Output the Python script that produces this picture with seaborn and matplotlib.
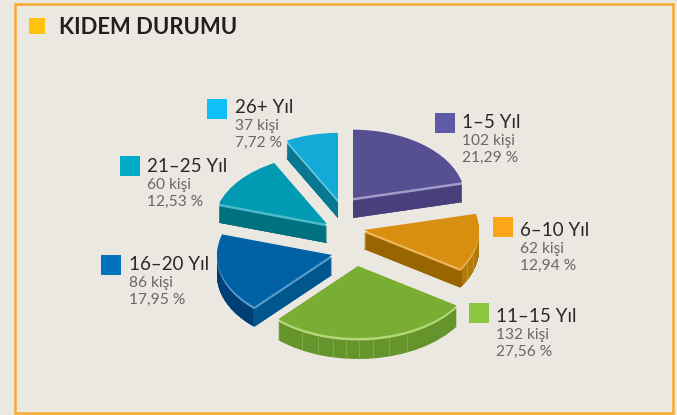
import numpy as np
import pandas as pd
import seaborn as sns
import matplotlib.pyplot as plt
from matplotlib.patches import Rectangle

title = "KIDEM DURUMU"
groups = ["1–5 Yıl", "6–10 Yıl", "11–15 Yıl", "16–20 Yıl", "21–25 Yıl", "26+ Yıl"]
people = [102, 62, 132, 86, 60, 37]
people_labels = ["102 kişi", "62 kişi", "132 kişi", "86 kişi", "60 kişi", "37 kişi"]
percent_labels = ["21,29 %", "12,94 %", "27,56 %", "17,95 %", "12,53 %", "7,72 %"]

legend_colors = ["#5E5AA8", "#FBA619", "#8DC63F", "#0072BC", "#00ACC8", "#10BFF5"]
top_colors = ["#565093", "#D98F10", "#7AAD33", "#0061A4", "#009BB2", "#14AAD8"]
shine_colors = ["#A09BC8", "#EDB35A", "#B5D67A", "#5A9CCB", "#4DBAC9", "#6CCBE4"]
face_colors = ["#483F7C", "#996500", "#65942C", "#00568F", "#00727F", "#087792"]
arc_colors = ["#483F7C", "#B07A08", "#5F8C2A", "#003F73", "#00727F", "#087792"]

# layout in image pixels
W, H = 677, 415
SQUASH = 0.61
BG = "#EBE7E1"
apex_x = [353, 364, 358, 332, 327, 338]
apex_y = [198, 230, 266, 255, 224, 200]
radius = [112, 115, 118, 115, 113, 110]
depth = [20, 19, 21, 20, 19, 18]
square_x = [445, 503, 479, 111, 130, 217]
square_y = [123, 227, 313, 265, 166, 109]
text_x = [462, 520, 496, 129, 147, 235]
name_y = [122, 230, 316, 264, 166, 107]
green_ribs = [302, 318, 333, 346, 359, 373, 389, 407]
orange_ribs = [467, 473]

sns.set_theme(style="white", rc={"figure.facecolor": BG, "axes.facecolor": BG})
plt.rcParams["font.family"] = ["Lato", "DejaVu Sans"]

fig = plt.figure(figsize=(W / 100, H / 100), dpi=100)
ax = fig.add_axes([0, 0, 1, 1])
over = fig.add_axes([0, 0, 1, 1])
over.patch.set_alpha(0)


def draw_layer(colors, shift, skip=None, clip=None):
    wedges, _ = ax.pie(people, colors=colors, startangle=90, counterclock=False,
                       wedgeprops={"linewidth": 0})
    for i, w in enumerate(wedges):
        w.set_center((apex_x[i], -(apex_y[i] + min(shift, depth[i])) / SQUASH))
        w.set_radius(radius[i])
        if skip is not None and i not in skip:
            w.set_visible(False)
        if clip is not None and i in clip:
            # pie turns clipping off on its wedges
            w.set_clip_on(True)
            w.set_clip_path(clip[i])


def draw_ribs(xs, i, color):
    for rx in xs:
        u = (rx - apex_x[i]) / radius[i]
        y_edge = apex_y[i] + radius[i] * SQUASH * np.sqrt(1 - u * u)
        ax.vlines(rx, -(y_edge + depth[i]) / SQUASH, -(y_edge + 3) / SQUASH,
                  color=color, lw=0.6, alpha=0.8)


ax.set_xlim(0, W)
ax.set_ylim(-H / SQUASH, 0)

# side walls, bottom up
for d in range(max(depth), 2, -1):
    draw_layer(face_colors, d)

# outer wall for the slices showing both a cut and an arc
clips = {
    1: Rectangle((462, -H / SQUASH), 60, H / SQUASH, transform=ax.transData),
    3: Rectangle((150, -H / SQUASH), 103, H / SQUASH, transform=ax.transData),
}
for d in range(max(depth), 2, -1):
    draw_layer(arc_colors, d, skip=[1, 3], clip=clips)

draw_ribs(green_ribs, 2, "#8DB356")
draw_ribs(orange_ribs, 1, "#D0A04A")

draw_layer(shine_colors, 2.5)
draw_layer(top_colors, 0)

ax.set_aspect("auto")
ax.set_xlim(0, W)
ax.set_ylim(-H / SQUASH, 0)
ax.axis("off")

over.set_xlim(0, W)
over.set_ylim(H, 0)
over.axis("off")
over.add_patch(Rectangle((14.5, 4), 658, 409, fill=False, ec="#F9A92B", lw=1.8))

squares = pd.DataFrame({"x": square_x, "y": square_y, "group": groups})
sns.scatterplot(data=squares, x="x", y="y", hue="group", palette=legend_colors,
                marker="s", s=205, linewidth=0, legend=False, ax=over)
over.scatter([37], [26], marker="s", s=130, color="#FFC20E", linewidth=0)
over.set_xlabel("")
over.set_ylabel("")
over.set_xlim(0, W)
over.set_ylim(H, 0)

over.text(59, 27, title, fontsize=15.8, fontweight="bold", color="#231F20", va="center")
for i, g in enumerate(groups):
    over.text(text_x[i], name_y[i], g, fontsize=13.5, color="#2B2A29", va="center")
    over.text(text_x[i], name_y[i] + 19, people_labels[i], fontsize=11.2, color="#6B6966", va="center")
    over.text(text_x[i], name_y[i] + 36, percent_labels[i], fontsize=11.2, color="#6B6966", va="center")

fig.savefig("out.png", dpi=100, facecolor=BG)
